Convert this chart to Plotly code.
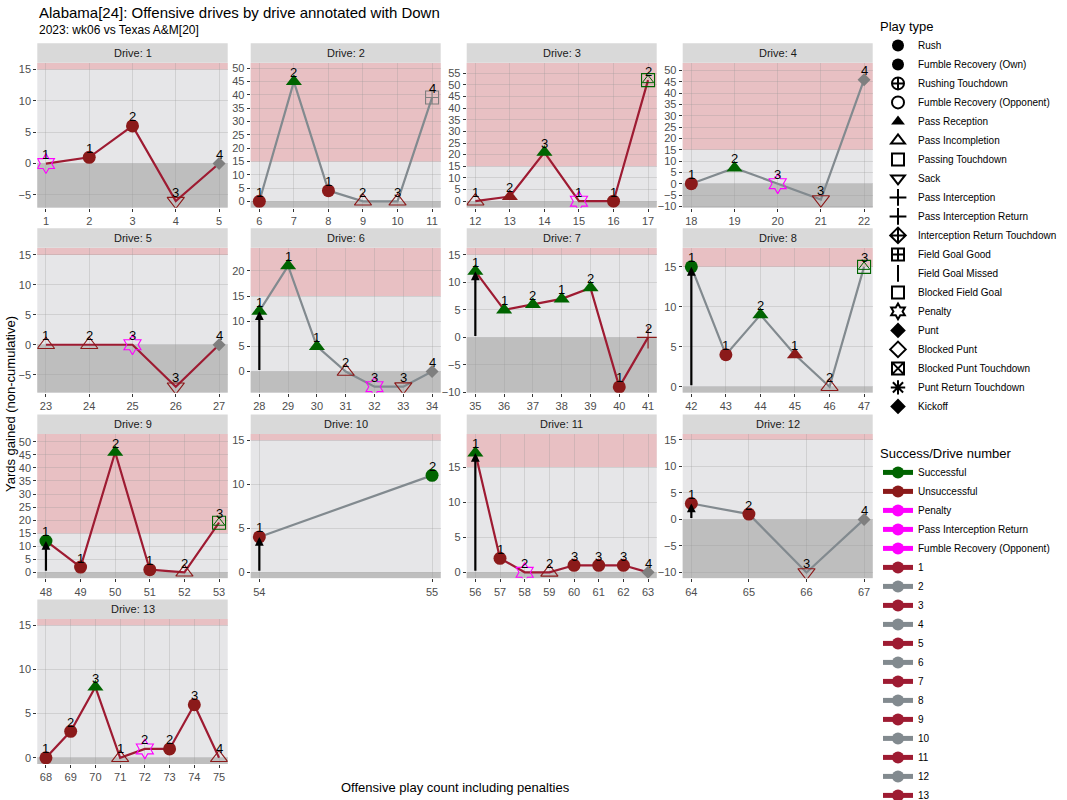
import plotly.graph_objects as go

# ---------------- data ----------------
drive_no = [1]*5 + [2]*6 + [3]*6 + [4]*5 + [5]*5 + [6]*7 + [7]*7 + [8]*6 + [9]*6 + [10]*2 + [11]*8 + [12]*4 + [13]*8
play_no = list(range(1, 76))
yards = [0, 1, 6, -6, 0,
         0, 45, 4, 0, 0, 39,
         0, 2, 21, 0, 0, 52,
         0, 7, 0, -7, 46,
         0, 0, 0, -7, 0,
         12, 21, 5, 0, -3, -3, 0,
         12, 5, 6, 7, 9, -9, 0,
         15, 4, 9, 4, 0, 15,
         12, 2, 46, 1, 0, 19,
         4, 11,
         17, 2, 0, 0, 1, 1, 1, 0,
         3, 1, -10, 0,
         0, 3, 8, 0, 1, 1, 6, 0]
down = [1, 1, 2, 3, 4,
        1, 2, 1, 2, 3, 4,
        1, 2, 3, 1, 1, 2,
        1, 2, 3, 3, 4,
        1, 2, 3, 3, 4,
        1, 1, 1, 2, 3, 3, 4,
        1, 1, 2, 1, 2, 1, 2,
        1, 1, 2, 1, 2, 3,
        1, 1, 2, 1, 2, 3,
        1, 2,
        1, 1, 2, 2, 3, 3, 3, 4,
        1, 2, 3, 4,
        1, 2, 3, 1, 2, 2, 3, 4]
play_type = ["Penalty", "Rush", "Rush", "Sack", "Punt",
             "Rush", "Pass Reception", "Rush", "Pass Incompletion", "Pass Incompletion", "Field Goal Good",
             "Pass Incompletion", "Pass Reception", "Pass Reception", "Penalty", "Rush", "Passing Touchdown",
             "Rush", "Pass Reception", "Penalty", "Sack", "Punt",
             "Pass Incompletion", "Pass Incompletion", "Penalty", "Sack", "Punt",
             "Pass Reception", "Pass Reception", "Pass Reception", "Pass Incompletion", "Penalty", "Sack", "Punt",
             "Pass Reception", "Pass Reception", "Pass Reception", "Pass Reception", "Pass Reception", "Rush", "Pass Interception",
             "Rush", "Rush", "Pass Reception", "Pass Reception", "Pass Incompletion", "Passing Touchdown",
             "Rush", "Rush", "Pass Reception", "Rush", "Pass Incompletion", "Passing Touchdown",
             "Rush", "Rush",
             "Pass Reception", "Rush", "Penalty", "Pass Incompletion", "Rush", "Rush", "Rush", "Punt",
             "Rush", "Rush", "Sack", "Punt",
             "Rush", "Rush", "Pass Reception", "Pass Incompletion", "Penalty", "Rush", "Rush", "Pass Incompletion"]
S, U, P, N = "Successful", "Unsuccessful", "Penalty", None
success = [P, U, U, U, N,
           U, S, U, U, U, N,
           U, U, S, P, U, S,
           U, S, P, U, N,
           U, U, P, U, N,
           S, S, S, U, P, U, N,
           S, S, S, S, S, U, U,
           S, U, S, U, U, S,
           S, U, S, U, U, S,
           U, S,
           S, U, P, U, U, U, U, N,
           U, U, U, N,
           U, U, S, U, P, U, U, U]
arrow_plays = [28, 35, 42, 48, 54, 56, 64]

legend_play_types = ["Rush", "Fumble Recovery (Own)", "Rushing Touchdown", "Fumble Recovery (Opponent)",
                     "Pass Reception", "Pass Incompletion", "Passing Touchdown", "Sack", "Pass Interception",
                     "Pass Interception Return", "Interception Return Touchdown", "Field Goal Good",
                     "Field Goal Missed", "Blocked Field Goal", "Penalty", "Punt", "Blocked Punt",
                     "Blocked Punt Touchdown", "Punt Return Touchdown", "Kickoff"]
legend_success = ["Successful", "Unsuccessful", "Penalty", "Pass Interception Return", "Fumble Recovery (Opponent)"]
drives = list(range(1, 14))

# ---------------- styling ----------------
W, H = 1067, 800
FONT = "Liberation Sans, Arial, sans-serif"
CRIMSON = "#9E1B32"
GREY = "#828A8F"
succ_col = {"Successful": "#006400", "Unsuccessful": "#8B1A1A", "Penalty": "#FF00FF",
            "Pass Interception Return": "#FF00FF", "Fumble Recovery (Opponent)": "#FF00FF", None: "#7F7F7F"}
sym = {"Rush": "circle", "Fumble Recovery (Own)": "circle", "Rushing Touchdown": "circle-cross-open",
       "Fumble Recovery (Opponent)": "circle-open", "Pass Reception": "triangle-up",
       "Pass Incompletion": "triangle-up-open", "Passing Touchdown": "square-open",
       "Sack": "triangle-down-open", "Pass Interception": "cross-thin-open",
       "Pass Interception Return": "cross-thin-open", "Interception Return Touchdown": "diamond-cross-open",
       "Field Goal Good": "square-cross-open", "Field Goal Missed": "line-ns-open",
       "Blocked Field Goal": "square-open", "Penalty": "hexagram-open", "Punt": "diamond",
       "Blocked Punt": "diamond-open", "Blocked Punt Touchdown": "square-x-open",
       "Punt Return Touchdown": "asterisk-open", "Kickoff": "diamond"}
size = {"Rush": 13, "Pass Reception": 14, "Pass Incompletion": 15, "Passing Touchdown": 13,
        "Sack": 15, "Pass Interception": 16, "Field Goal Good": 13, "Penalty": 15, "Punt": 10}

col_px = [(37.3, 227.7), (250.7, 440.7), (466.7, 656.7), (682.7, 872.7)]
row_px = [(62.7, 207.7), (247.7, 392.7), (434.0, 578.3), (619.0, 764.0)]
STRIP = 19.5
y_ranges = [[-7.05, 16.1], [-2.4, 52.1], [-2.8, 59.5], [-10.6, 53.5], [-8.0, 16.2], [-4.2, 24.6],
            [-10.05, 16.3], [-0.75, 17.4], [-2.3, 53.0], [-0.7, 15.7], [-0.85, 19.7], [-11.1, 16.1],
            [-0.7, 15.7]]

fig = go.Figure()
layout = {}
shapes = []
annotations = []

for d in drives:
    i = d - 1
    r, c = divmod(i, 4)
    sfx = "" if d == 1 else str(d)
    idx = [k for k, dd in enumerate(drive_no) if dd == d]
    xs = [play_no[k] for k in idx]
    ys = [yards[k] for k in idx]
    span = max(xs) - min(xs)
    xr = [min(xs) - 0.05 * span, max(xs) + 0.05 * span]
    yr = y_ranges[i]
    axis_common = dict(showgrid=True, gridcolor="rgba(150,150,150,0.28)", gridwidth=1,
                       zeroline=False, showline=False, ticks="outside", ticklen=3,
                       tickcolor="#333333", tickwidth=1,
                       tickfont=dict(size=11, color="#4D4D4D", family=FONT))
    layout["xaxis" + sfx] = dict(domain=[col_px[c][0] / W, col_px[c][1] / W], anchor="y" + sfx,
                                 range=xr, dtick=1, tick0=0, **axis_common)
    layout["yaxis" + sfx] = dict(domain=[1 - row_px[r][1] / H, 1 - row_px[r][0] / H], anchor="x" + sfx,
                                 range=yr, dtick=5, tick0=0, **axis_common)
    xref, yref = "x" + sfx, "y" + sfx
    # bands
    shapes.append(dict(type="rect", xref=xref + " domain", yref=yref, x0=0, x1=1, y0=15, y1=yr[1],
                       fillcolor="#E8C0C3", line=dict(width=0), layer="below"))
    shapes.append(dict(type="rect", xref=xref + " domain", yref=yref, x0=0, x1=1, y0=yr[0], y1=0,
                       fillcolor="#BEBEBE", line=dict(width=0), layer="below"))
    # strip
    shapes.append(dict(type="rect", xref="paper", yref="paper", x0=col_px[c][0] / W, x1=col_px[c][1] / W,
                       y0=1 - row_px[r][0] / H, y1=1 - (row_px[r][0] - STRIP) / H,
                       fillcolor="#D9D9D9", line=dict(width=0)))
    annotations.append(dict(xref="paper", yref="paper", x=(col_px[c][0] + col_px[c][1]) / 2 / W,
                            y=1 - (row_px[r][0] - STRIP / 2) / H, text=f"Drive: {d}", showarrow=False,
                            xanchor="center", yanchor="middle", font=dict(size=11, color="#1A1A1A", family=FONT)))
    # arrows
    for k in idx:
        if play_no[k] in arrow_plays:
            annotations.append(dict(x=play_no[k], y=yards[k], ax=play_no[k], ay=0, xref=xref, yref=yref,
                                    axref=xref, ayref=yref, showarrow=True, arrowhead=2, arrowsize=0.8,
                                    arrowwidth=2.2, arrowcolor="black", text=""))
    # line
    fig.add_trace(go.Scatter(x=xs, y=ys, mode="lines", xaxis=xref, yaxis=yref, showlegend=False,
                             line=dict(color=CRIMSON if d % 2 == 1 else GREY, width=2.2), hoverinfo="skip"))
    # markers
    syms = [sym[play_type[k]] for k in idx]
    cols = [succ_col[success[k]] for k in idx]
    sizes = [size.get(play_type[k], 12) for k in idx]
    lws = [1.1 if "open" in sym[play_type[k]] else 0 for k in idx]
    fig.add_trace(go.Scatter(x=xs, y=ys, mode="markers", xaxis=xref, yaxis=yref, showlegend=False,
                             marker=dict(symbol=syms, color=cols, size=sizes, opacity=1,
                                         line=dict(width=lws, color=cols))))
    td = [k for k in idx if play_type[k] == "Passing Touchdown"]
    if td:
        fig.add_trace(go.Scatter(x=[play_no[k] for k in td], y=[yards[k] for k in td], mode="markers",
                                 xaxis=xref, yaxis=yref, showlegend=False,
                                 marker=dict(symbol="triangle-up-open", size=10, opacity=1,
                                             color=[succ_col[success[k]] for k in td], line=dict(width=1))))
    # down labels
    for k in idx:
        annotations.append(dict(x=play_no[k], y=yards[k], xref=xref, yref=yref, text=str(down[k]),
                                showarrow=False, yshift=9, font=dict(size=13, color="black", family=FONT)))

# legend entries
for name in legend_play_types:
    s = sym[name]
    fig.add_trace(go.Scatter(x=[None], y=[None], mode="markers", name=name, legend="legend",
                             marker=dict(symbol=s, color="black", size=10 if name not in ("Punt", "Kickoff") else 9,
                                         line=dict(width=1 if "open" in s else 0, color="black"))))
for name in legend_success:
    fig.add_trace(go.Scatter(x=[None], y=[None], mode="lines+markers", name=name, legend="legend2",
                             line=dict(color=succ_col[name], width=2),
                             marker=dict(symbol="circle", size=10, color=succ_col[name])))
for d in drives:
    cc = CRIMSON if d % 2 == 1 else GREY
    fig.add_trace(go.Scatter(x=[None], y=[None], mode="lines+markers", name=str(d), legend="legend2",
                             line=dict(color=cc, width=2), marker=dict(symbol="circle", size=10, color=cc)))

# titles
annotations += [
    dict(xref="paper", yref="paper", x=37 / W, y=1 - 12 / H, xanchor="left", yanchor="middle", showarrow=False,
         text="Alabama[24]: Offensive drives by drive annotated with Down", font=dict(size=15, color="black", family=FONT)),
    dict(xref="paper", yref="paper", x=37 / W, y=1 - 30 / H, xanchor="left", yanchor="middle", showarrow=False,
         text="2023: wk06 vs Texas A&M[20]", font=dict(size=12, color="black", family=FONT)),
    dict(xref="paper", yref="paper", x=455 / W, y=1 - 787 / H, xanchor="center", yanchor="middle", showarrow=False,
         text="Offensive play count including penalties", font=dict(size=13, color="black", family=FONT)),
    dict(xref="paper", yref="paper", x=10 / W, y=1 - 404 / H, xanchor="center", yanchor="middle", showarrow=False,
         textangle=-90, text="Yards gained (non-cumulative)", font=dict(size=13, color="black", family=FONT)),
]

fig.update_layout(
    width=W, height=H, margin=dict(l=0, r=0, t=0, b=0, autoexpand=False),
    paper_bgcolor="white", plot_bgcolor="#E6E6E8",
    font=dict(family=FONT, color="black"),
    shapes=shapes, annotations=annotations,
    legend=dict(x=878 / W, y=1 - 14 / H, xanchor="left", yanchor="top", bgcolor="rgba(0,0,0,0)",
                title=dict(text="Play type", font=dict(size=13, family=FONT)),
                font=dict(size=10, family=FONT), itemsizing="constant", tracegroupgap=0),
    legend2=dict(x=878 / W, y=1 - 441 / H, xanchor="left", yanchor="top", bgcolor="rgba(0,0,0,0)",
                 title=dict(text="Success/Drive number", font=dict(size=13, family=FONT)),
                 font=dict(size=10, family=FONT), itemsizing="constant", tracegroupgap=0),
    **layout,
)

fig.write_html("out.html", config={"displayModeBar": False},
               post_script="document.body.style.margin='0';document.body.style.padding='0';document.body.style.overflow='hidden';")
